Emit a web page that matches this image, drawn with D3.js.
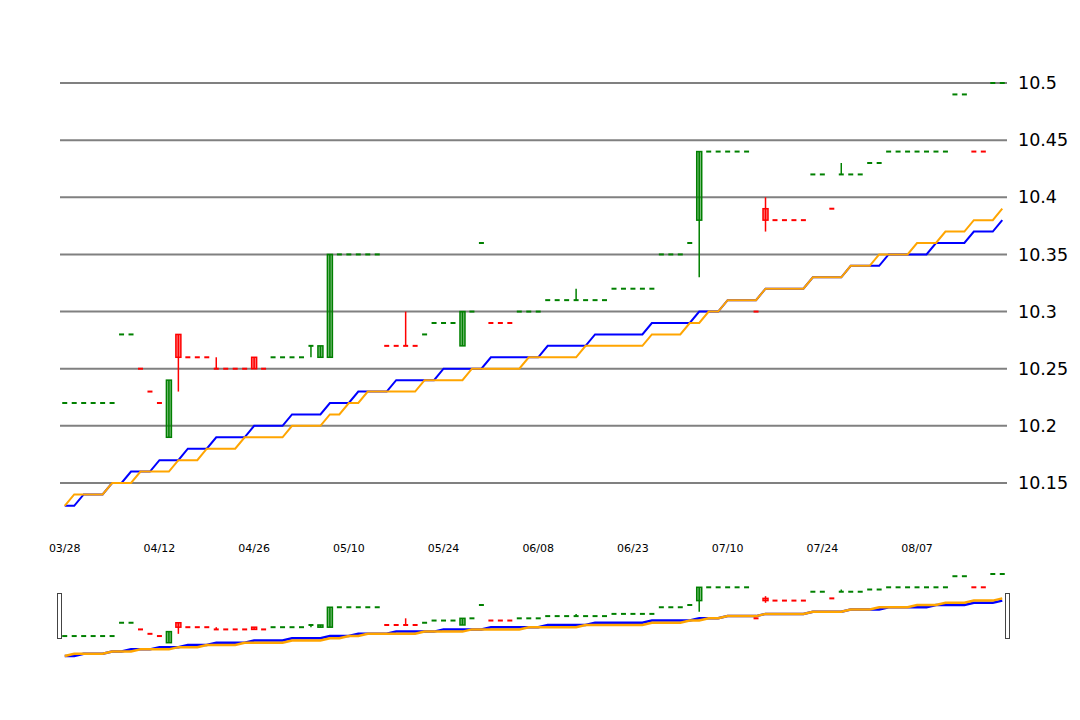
<!DOCTYPE html>
<html lang="en">
<head>
    <meta charset="UTF-8">
    <title>K-line</title>
    <style>
        body { margin: 0; background: #fff; }
        svg { display: block; font-family: "DejaVu Sans", sans-serif; }
    </style>
</head>
<body>
    <svg width="1080" height="720"></svg>

    <script src="https://d3js.org/d3.v7.min.js"></script>
    <script>
        // x axis labels, one every 10 trading days
        const tickLabels = ["03/28", "04/12", "04/26", "05/10", "05/24", "06/08", "06/23", "07/10", "07/24", "08/07"];
        const yTicks = [10.15, 10.2, 10.25, 10.3, 10.35, 10.4, 10.45, 10.5];

        const open = [
            10.22,10.22,10.22,10.22,10.22,10.22,10.28,10.28,10.25,10.23,
            10.22,10.19,10.28,10.26,10.26,10.26,10.25,10.25,10.25,10.25,
            10.26,10.25,10.26,10.26,10.26,10.26,10.27,10.26,10.26,10.35,
            10.35,10.35,10.35,10.35,10.27,10.27,10.27,10.27,10.28,10.29,
            10.29,10.29,10.27,10.30,10.36,10.29,10.29,10.29,10.30,10.30,
            10.30,10.31,10.31,10.31,10.31,10.31,10.31,10.31,10.32,10.32,
            10.32,10.32,10.32,10.35,10.35,10.35,10.36,10.38,10.44,10.44,
            10.44,10.44,10.44,10.30,10.39,10.38,10.38,10.38,10.38,10.42,
            10.42,10.39,10.42,10.42,10.42,10.43,10.43,10.44,10.44,10.44,
            10.44,10.44,10.44,10.44,10.49,10.49,10.44,10.44,10.50,10.50
        ];
        const close = [
            10.22,10.22,10.22,10.22,10.22,10.22,10.28,10.28,10.25,10.23,
            10.22,10.24,10.26,10.26,10.26,10.26,10.25,10.25,10.25,10.25,
            10.25,10.25,10.26,10.26,10.26,10.26,10.27,10.27,10.35,10.35,
            10.35,10.35,10.35,10.35,10.27,10.27,10.27,10.27,10.28,10.29,
            10.29,10.29,10.30,10.30,10.36,10.29,10.29,10.29,10.30,10.30,
            10.30,10.31,10.31,10.31,10.31,10.31,10.31,10.31,10.32,10.32,
            10.32,10.32,10.32,10.35,10.35,10.35,10.36,10.44,10.44,10.44,
            10.44,10.44,10.44,10.30,10.38,10.38,10.38,10.38,10.38,10.42,
            10.42,10.39,10.42,10.42,10.42,10.43,10.43,10.44,10.44,10.44,
            10.44,10.44,10.44,10.44,10.49,10.49,10.44,10.44,10.50,10.50
        ];
        const low = [
            10.22,10.22,10.22,10.22,10.22,10.22,10.28,10.28,10.25,10.23,
            10.22,10.19,10.23,10.26,10.26,10.26,10.25,10.25,10.25,10.25,
            10.25,10.25,10.26,10.26,10.26,10.26,10.26,10.26,10.26,10.35,
            10.35,10.35,10.35,10.35,10.27,10.27,10.27,10.27,10.28,10.29,
            10.29,10.29,10.27,10.30,10.36,10.29,10.29,10.29,10.30,10.30,
            10.30,10.31,10.31,10.31,10.31,10.31,10.31,10.31,10.32,10.32,
            10.32,10.32,10.32,10.35,10.35,10.35,10.36,10.33,10.44,10.44,
            10.44,10.44,10.44,10.30,10.37,10.38,10.38,10.38,10.38,10.42,
            10.42,10.39,10.42,10.42,10.42,10.43,10.43,10.44,10.44,10.44,
            10.44,10.44,10.44,10.44,10.49,10.49,10.44,10.44,10.50,10.50
        ];
        const high = [
            10.22,10.22,10.22,10.22,10.22,10.22,10.28,10.28,10.25,10.23,
            10.22,10.24,10.28,10.26,10.26,10.26,10.26,10.25,10.25,10.25,
            10.26,10.25,10.26,10.26,10.26,10.26,10.27,10.27,10.35,10.35,
            10.35,10.35,10.35,10.35,10.27,10.27,10.30,10.27,10.28,10.29,
            10.29,10.29,10.30,10.30,10.36,10.29,10.29,10.29,10.30,10.30,
            10.30,10.31,10.31,10.31,10.32,10.31,10.31,10.31,10.32,10.32,
            10.32,10.32,10.32,10.35,10.35,10.35,10.36,10.44,10.44,10.44,
            10.44,10.44,10.44,10.30,10.40,10.38,10.38,10.38,10.38,10.42,
            10.42,10.39,10.43,10.42,10.42,10.43,10.43,10.44,10.44,10.44,
            10.44,10.44,10.44,10.44,10.49,10.49,10.44,10.44,10.50,10.50
        ];
        // moving averages
        const maBlue = [
            10.13,10.13,10.14,10.14,10.14,10.15,10.15,10.16,10.16,10.16,
            10.17,10.17,10.17,10.18,10.18,10.18,10.19,10.19,10.19,10.19,
            10.20,10.20,10.20,10.20,10.21,10.21,10.21,10.21,10.22,10.22,
            10.22,10.23,10.23,10.23,10.23,10.24,10.24,10.24,10.24,10.24,
            10.25,10.25,10.25,10.25,10.25,10.26,10.26,10.26,10.26,10.26,
            10.26,10.27,10.27,10.27,10.27,10.27,10.28,10.28,10.28,10.28,
            10.28,10.28,10.29,10.29,10.29,10.29,10.29,10.30,10.30,10.30,
            10.31,10.31,10.31,10.31,10.32,10.32,10.32,10.32,10.32,10.33,
            10.33,10.33,10.33,10.34,10.34,10.34,10.34,10.35,10.35,10.35,
            10.35,10.35,10.36,10.36,10.36,10.36,10.37,10.37,10.37,10.38
        ];
        const maOrange = [
            10.13,10.14,10.14,10.14,10.14,10.15,10.15,10.15,10.16,10.16,
            10.16,10.16,10.17,10.17,10.17,10.18,10.18,10.18,10.18,10.19,
            10.19,10.19,10.19,10.19,10.20,10.20,10.20,10.20,10.21,10.21,
            10.22,10.22,10.23,10.23,10.23,10.23,10.23,10.23,10.24,10.24,
            10.24,10.24,10.24,10.25,10.25,10.25,10.25,10.25,10.25,10.26,
            10.26,10.26,10.26,10.26,10.26,10.27,10.27,10.27,10.27,10.27,
            10.27,10.27,10.28,10.28,10.28,10.28,10.29,10.29,10.30,10.30,
            10.31,10.31,10.31,10.31,10.32,10.32,10.32,10.32,10.32,10.33,
            10.33,10.33,10.33,10.34,10.34,10.34,10.35,10.35,10.35,10.35,
            10.36,10.36,10.36,10.37,10.37,10.37,10.38,10.38,10.38,10.39
        ];

        const svg = d3.select("svg");
        const idx = d3.range(open.length);

        // candle colour: body direction, flat days follow the previous close
        const up = [];
        idx.forEach(i => {
            if (close[i] > open[i]) up[i] = true;
            else if (close[i] < open[i]) up[i] = false;
            else if (i === 0) up[i] = true;
            else if (close[i] > close[i - 1]) up[i] = true;
            else if (close[i] < close[i - 1]) up[i] = false;
            else up[i] = up[i - 1];
        });

        const x = d3.scaleBand().domain(idx).range([60, 1007]);
        const cx = i => x(i) + x.bandwidth() / 2;
        const y = d3.scaleLinear().domain([10.15, 10.5]).range([483, 83]);
        const yMini = d3.scaleLinear().domain([10.13, 10.5]).range([656, 574]);

        // grid + right axis labels
        svg.append("g").selectAll("line")
            .data(yTicks).enter().append("line")
            .attr("x1", 60).attr("x2", 1007)
            .attr("y1", d => y(d)).attr("y2", d => y(d))
            .style("stroke", "#808080").style("stroke-width", 2);

        svg.append("g").selectAll("text")
            .data(yTicks).enter().append("text")
            .attr("x", 1018).attr("y", d => y(d))
            .attr("dy", "0.35em")
            .style("font-size", "17.5px")
            .style("fill", "#000")
            .text(d => d3.format("")(d));

        // bottom labels
        svg.append("g").selectAll("text")
            .data(tickLabels).enter().append("text")
            .attr("x", (d, k) => cx(k * 10))
            .attr("y", 548)
            .attr("dy", "0.35em")
            .attr("text-anchor", "middle")
            .style("font-size", "11px")
            .text(d => d);

        function drawChart(g, ys, lineW) {
            const line = arr => d3.line().x(i => cx(i)).y(i => ys(arr[i]))(idx);
            g.append("path").attr("d", line(maBlue))
                .style("fill", "none").style("stroke", "#0000ff").style("stroke-width", lineW);
            g.append("path").attr("d", line(maOrange))
                .style("fill", "none").style("stroke", "#ffa500").style("stroke-width", lineW);

            const c = g.append("g").selectAll("g")
                .data(idx).enter().append("g");

            // wicks
            c.filter(i => high[i] > low[i])
                .append("line")
                .attr("x1", i => cx(i)).attr("x2", i => cx(i))
                .attr("y1", i => ys(high[i])).attr("y2", i => ys(low[i]))
                .style("stroke", i => up[i] ? "#008000" : "#ff0000")
                .style("stroke-width", 1.5);

            // bodies
            c.filter(i => open[i] !== close[i])
                .append("rect")
                .attr("x", i => cx(i) - 2.5)
                .attr("width", 5)
                .attr("y", i => ys(Math.max(open[i], close[i])))
                .attr("height", i => Math.abs(ys(open[i]) - ys(close[i])))
                .style("fill", i => up[i] ? "#008000" : "#ff0000")
                .style("fill-opacity", 0.5)
                .style("stroke", i => up[i] ? "#008000" : "#ff0000")
                .style("stroke-width", 1.5);

            // flat days
            c.filter(i => open[i] === close[i])
                .append("line")
                .attr("x1", i => cx(i) - 2.5).attr("x2", i => cx(i) + 2.5)
                .attr("y1", i => ys(close[i])).attr("y2", i => ys(close[i]))
                .style("stroke", i => up[i] ? "#008000" : "#ff0000")
                .style("stroke-width", 2);
        }

        drawChart(svg.append("g"), y, 2);
        drawChart(svg.append("g"), yMini, 2.5);

        // zoom slider handles
        svg.append("g").selectAll("rect")
            .data([59.5, 1007.5]).enter().append("rect")
            .attr("x", d => d - 2)
            .attr("y", 593.5)
            .attr("width", 4)
            .attr("height", 45)
            .style("fill", "#fff")
            .style("stroke", "#444")
            .style("stroke-width", 1);
    </script>
</body>
</html>
